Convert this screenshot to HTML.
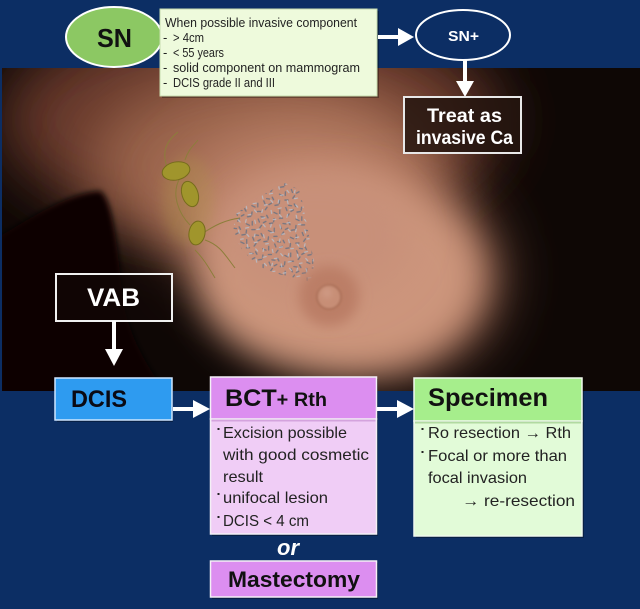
<!DOCTYPE html>
<html><head><meta charset="utf-8">
<style>
html,body{margin:0;padding:0;background:#0c2e64;}
svg{display:block;}
text{font-family:"Liberation Sans",sans-serif;}
</style></head>
<body>
<svg width="640" height="609" viewBox="0 0 640 609" xmlns="http://www.w3.org/2000/svg">
<defs>
 <filter id="b30" x="-50%" y="-50%" width="200%" height="200%"><feGaussianBlur stdDeviation="30"/></filter>
 <filter id="b18" x="-50%" y="-50%" width="200%" height="200%"><feGaussianBlur stdDeviation="18"/></filter>
 <filter id="b6" x="-50%" y="-50%" width="200%" height="200%"><feGaussianBlur stdDeviation="6"/></filter>
 <filter id="b3" x="-50%" y="-50%" width="200%" height="200%"><feGaussianBlur stdDeviation="3"/></filter>
 <filter id="b1" x="-50%" y="-50%" width="200%" height="200%"><feGaussianBlur stdDeviation="1"/></filter>
 <clipPath id="ph"><rect x="2" y="68" width="638" height="323"/></clipPath>
 <clipPath id="calc"><polygon points="236,214 250,203 268,192 285,183 300,190 306,220 314,262 312,282 296,278 278,274 258,266 242,250 233,232"/></clipPath>
 <pattern id="cal" width="23" height="19" patternUnits="userSpaceOnUse" patternTransform="rotate(17)">
  <path d="M1,2 l3,-1.5 M7,5 l1,3.5 M12,1 l2,2.5 M2,9 l3.5,0.5 M17,6 l-1,3 M9,13 l3,-1 M19,14 l2,2 M4,15 l0.5,3 M14,17 l3,-0.5 M20,1 l-2,2" stroke="#747682" stroke-width="1.3" stroke-linecap="round" fill="none"/>
 </pattern>
 <pattern id="cal2" width="19" height="17" patternUnits="userSpaceOnUse" patternTransform="rotate(-31) translate(5 3)">
  <path d="M2,3 l2.5,1 M10,2 l0.5,3 M15,8 l2,-2 M5,11 l-1,3 M12,13 l3,1" stroke="#b8bcc6" stroke-width="1.1" stroke-linecap="round" fill="none"/>
 </pattern>
</defs>

<rect x="0" y="0" width="640" height="609" fill="#0c2e64"/>

<!-- photo -->
<g clip-path="url(#ph)">
 <rect x="2" y="68" width="638" height="323" fill="#0e0705"/>
 <ellipse cx="250" cy="120" rx="250" ry="110" fill="#66392a" filter="url(#b30)"/>
 <ellipse cx="265" cy="165" rx="175" ry="95" fill="#9a634c" filter="url(#b30)"/>
 <ellipse cx="400" cy="275" rx="95" ry="90" fill="#a06a54" filter="url(#b30)"/>
 <ellipse cx="305" cy="215" rx="130" ry="92" fill="#bd836a" filter="url(#b30)"/>
 <ellipse cx="340" cy="278" rx="142" ry="98" fill="#cc957c" filter="url(#b18)"/>
 <ellipse cx="315" cy="235" rx="95" ry="65" fill="#c89079" filter="url(#b18)"/>
 <!-- dark arm / under-arm shape -->
 <path d="M0,236 C30,218 70,192 100,191 C112,198 117,240 123,300 C130,340 150,370 168,395 L0,395 Z" fill="#070303" filter="url(#b3)"/>
 <!-- lymph nodes -->
 <ellipse cx="188" cy="200" rx="26" ry="45" fill="#b0a040" opacity="0.22" filter="url(#b6)"/>
 <path d="M168,170 C160,150 168,140 178,132 M185,160 C188,150 194,145 198,140 M180,178 C170,195 180,215 190,225 M200,235 C215,225 225,220 240,218 M205,240 C220,245 225,255 235,268 M195,250 C205,260 210,270 215,278" stroke="#8c7e3a" stroke-width="1" fill="none"/>
 <ellipse cx="176" cy="171" rx="14" ry="9" transform="rotate(-12 176 171)" fill="#a0952c" stroke="#766c1c" stroke-width="1"/>
 <ellipse cx="190" cy="194" rx="8" ry="13" transform="rotate(-18 190 194)" fill="#a0952c" stroke="#766c1c" stroke-width="1"/>
 <ellipse cx="197" cy="233" rx="8" ry="12" transform="rotate(10 197 233)" fill="#a0952c" stroke="#766c1c" stroke-width="1"/>
 <!-- calcifications -->
 <rect x="225" y="180" width="95" height="105" fill="url(#cal)" clip-path="url(#calc)"/>
 <rect x="225" y="180" width="95" height="105" fill="url(#cal2)" clip-path="url(#calc)"/>
 <!-- nipple -->
 <circle cx="329" cy="296" r="30" fill="#bb7e66" filter="url(#b6)"/>
 <circle cx="329" cy="297" r="12" fill="#c78e76" stroke="#a66a52" stroke-width="1.5" filter="url(#b1)"/>
 <circle cx="327" cy="293" r="5" fill="#cf9a84" filter="url(#b3)"/>
</g>

<!-- SN ellipse -->
<ellipse cx="114" cy="37" rx="48" ry="30" fill="#8cc863" stroke="#ffffff" stroke-width="2"/>
<text x="97" y="47" font-size="26" font-weight="bold" fill="#111" textLength="35" lengthAdjust="spacingAndGlyphs">SN</text>

<!-- criteria box -->
<rect x="162" y="11" width="217" height="87" fill="#000" opacity="0.3"/>
<rect x="160" y="9" width="217" height="87" fill="#eefadc" stroke="#c7dcae" stroke-width="1"/>
<g font-size="13" fill="#222">
 <text x="165" y="27" textLength="192" lengthAdjust="spacingAndGlyphs">When possible invasive component</text>
 <text x="163" y="42">-</text><text x="173" y="42" textLength="31" lengthAdjust="spacingAndGlyphs">&gt; 4cm</text>
 <text x="163" y="57">-</text><text x="173" y="57" textLength="51" lengthAdjust="spacingAndGlyphs">&lt; 55 years</text>
 <text x="163" y="72">-</text><text x="173" y="72" textLength="187" lengthAdjust="spacingAndGlyphs">solid component on mammogram</text>
 <text x="163" y="87">-</text><text x="173" y="87" textLength="102" lengthAdjust="spacingAndGlyphs">DCIS grade II and III</text>
</g>

<!-- arrow to SN+ -->
<line x1="378" y1="37" x2="401" y2="37" stroke="#fff" stroke-width="4"/>
<polygon points="398,28 414,37 398,46" fill="#fff"/>

<!-- SN+ ellipse -->
<ellipse cx="463" cy="35" rx="47" ry="25" fill="#0c2e64" stroke="#fff" stroke-width="2"/>
<text x="448" y="41" font-size="15" font-weight="bold" fill="#fff" textLength="31" lengthAdjust="spacingAndGlyphs">SN+</text>

<!-- arrow down to Treat -->
<line x1="465" y1="60" x2="465" y2="84" stroke="#fff" stroke-width="4"/>
<polygon points="456,81 474,81 465,97" fill="#fff"/>

<!-- Treat box -->
<rect x="404" y="97" width="117" height="56" fill="#24150f" fill-opacity="0.85" stroke="#e8e8e8" stroke-width="2"/>
<text x="427" y="122" font-size="19" font-weight="bold" fill="#fff" textLength="75" lengthAdjust="spacingAndGlyphs">Treat as</text>
<text x="416" y="144" font-size="19" font-weight="bold" fill="#fff" textLength="97" lengthAdjust="spacingAndGlyphs">invasive Ca</text>

<!-- VAB box -->
<rect x="56" y="274" width="116" height="47" fill="#120806" fill-opacity="0.6" stroke="#f0f0f0" stroke-width="2"/>
<text x="87" y="306" font-size="25" font-weight="bold" fill="#fff" textLength="53" lengthAdjust="spacingAndGlyphs">VAB</text>

<!-- arrow VAB -> DCIS -->
<line x1="114" y1="321" x2="114" y2="352" stroke="#fff" stroke-width="4"/>
<polygon points="105,349 123,349 114,366" fill="#fff"/>

<!-- DCIS -->
<rect x="57" y="380" width="116" height="42" fill="#000" opacity="0.3"/>
<rect x="55" y="378" width="117" height="42" fill="#2e9bf0" stroke="#cfe6ff" stroke-width="1.5"/>
<text x="71" y="407" font-size="24" font-weight="bold" fill="#0a0a14" textLength="56" lengthAdjust="spacingAndGlyphs">DCIS</text>

<!-- arrow DCIS -> BCT -->
<line x1="173" y1="409" x2="196" y2="409" stroke="#fff" stroke-width="4"/>
<polygon points="193,400 210,409 193,418" fill="#fff"/>

<!-- BCT -->
<rect x="212" y="379" width="166" height="157" fill="#000" opacity="0.3"/>
<rect x="210.5" y="419" width="166" height="115" fill="#f0cdf6" stroke="#f4f0f6" stroke-width="1.5"/>
<rect x="210.5" y="377" width="166" height="42" fill="#dc8ef0" stroke="#f4f0f6" stroke-width="1.5"/>
<rect x="211.5" y="419.5" width="164" height="2" fill="#b77ac4" opacity="0.5"/>
<text x="225" y="406" font-weight="bold" fill="#111" textLength="102" lengthAdjust="spacingAndGlyphs"><tspan font-size="24">BCT</tspan><tspan font-size="19">+ Rth</tspan></text>
<g font-size="16" fill="#222">
 <rect x="217.5" y="428" width="2" height="2" fill="#222"/>
 <text x="223" y="438" textLength="124" lengthAdjust="spacingAndGlyphs">Excision possible</text>
 <text x="223" y="460" textLength="146" lengthAdjust="spacingAndGlyphs">with good cosmetic</text>
 <text x="223" y="482" textLength="40" lengthAdjust="spacingAndGlyphs">result</text>
 <rect x="217.5" y="493" width="2" height="2" fill="#222"/>
 <text x="223" y="503" textLength="105" lengthAdjust="spacingAndGlyphs">unifocal lesion</text>
 <rect x="217.5" y="516" width="2" height="2" fill="#222"/>
 <text x="223" y="526" textLength="86" lengthAdjust="spacingAndGlyphs">DCIS &lt; 4 cm</text>
</g>

<!-- or -->
<text x="277" y="555" font-size="22" font-weight="bold" font-style="italic" fill="#fff" textLength="22" lengthAdjust="spacingAndGlyphs">or</text>

<!-- Mastectomy -->
<rect x="212" y="563" width="166" height="36" fill="#000" opacity="0.3"/>
<rect x="210.5" y="561" width="166" height="36" fill="#dc8ef0" stroke="#f4f0f6" stroke-width="1.5"/>
<text x="228" y="587" font-size="22" font-weight="bold" fill="#111" textLength="132" lengthAdjust="spacingAndGlyphs">Mastectomy</text>

<!-- arrow BCT -> Specimen -->
<line x1="377" y1="409" x2="400" y2="409" stroke="#fff" stroke-width="4"/>
<polygon points="397,400 414,409 397,418" fill="#fff"/>

<!-- Specimen -->
<rect x="416" y="380" width="168" height="158" fill="#000" opacity="0.3"/>
<rect x="414" y="421" width="168" height="115" fill="#e2fbd8" stroke="#f0f8ee" stroke-width="1.5"/>
<rect x="414" y="378" width="168" height="43" fill="#a6ee8c" stroke="#f0f8ee" stroke-width="1.5"/>
<rect x="415" y="421.5" width="166" height="2" fill="#7fb96a" opacity="0.5"/>
<text x="428" y="406" font-size="25" font-weight="bold" fill="#111" textLength="120" lengthAdjust="spacingAndGlyphs">Specimen</text>
<g font-size="16" fill="#222">
 <rect x="421.5" y="428" width="2" height="2" fill="#222"/>
 <text x="428" y="438" textLength="143" lengthAdjust="spacingAndGlyphs">Ro resection → Rth</text>
 <rect x="421.5" y="451" width="2" height="2" fill="#222"/>
 <text x="428" y="461" textLength="139" lengthAdjust="spacingAndGlyphs">Focal or more than</text>
 <text x="428" y="483" textLength="99" lengthAdjust="spacingAndGlyphs">focal invasion</text>
 <text x="462" y="506" textLength="113" lengthAdjust="spacingAndGlyphs">→ re-resection</text>
</g>
</svg>
</body></html>
